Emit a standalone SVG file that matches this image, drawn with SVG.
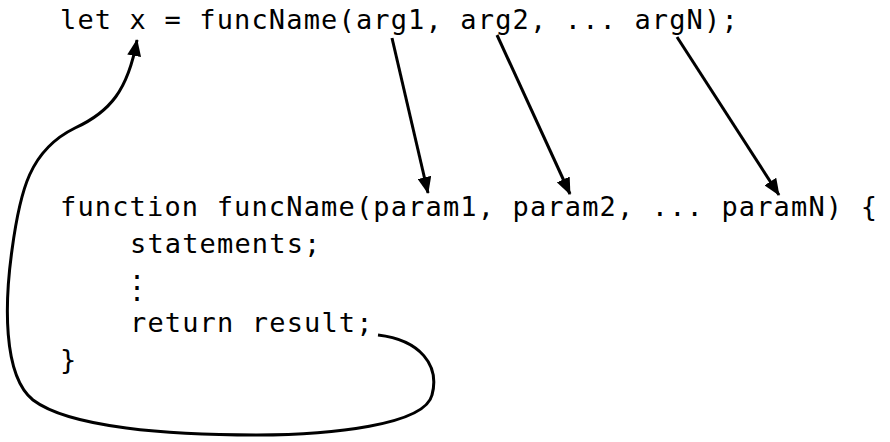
<svg xmlns="http://www.w3.org/2000/svg" width="890" height="442" viewBox="0 0 890 442">
<defs>
<marker id="ah" markerWidth="17" markerHeight="14" refX="16" refY="7" orient="auto" markerUnits="userSpaceOnUse">
<path d="M0,0 L17,7 L0,14 Z" fill="#000"/>
</marker>
<style>
.code{font-family:"DejaVu Sans Mono","Liberation Mono",monospace;font-size:27px;letter-spacing:1.15px;fill:#000}
.conn{fill:none;stroke:#000;stroke-width:3;marker-end:url(#ah)}
</style>
</defs>
<rect width="890" height="442" fill="#fff"/>
<g id="call">
<text class="code" x="60" y="29">let x = funcName(arg1, arg2, ... argN);</text>
</g>
<g id="function">
<text class="code" x="60" y="216">function funcName(param1, param2, ... paramN) {</text>
<text class="code" x="130" y="253">statements;</text>
<text class="code" x="121" y="298" style="font-size:32px;letter-spacing:0">⋮</text>
<text class="code" x="130" y="332">return result;</text>
<text class="code" x="60" y="369">}</text>
</g>
<g id="connectors">
<line class="conn" x1="392" y1="38" x2="428" y2="193"/>
<line class="conn" x1="497" y1="35" x2="570" y2="194"/>
<line class="conn" x1="677" y1="37" x2="779" y2="195"/>
<path class="conn" d="M378,335 C420,340 440,365 432,395 C425,425 330,435 257,435 C170,435 70,428 33,400 C2,375 5,300 12,250 C20,190 30,150 75,128 C110,112 128,90 137,40"/>
</g>
</svg>
